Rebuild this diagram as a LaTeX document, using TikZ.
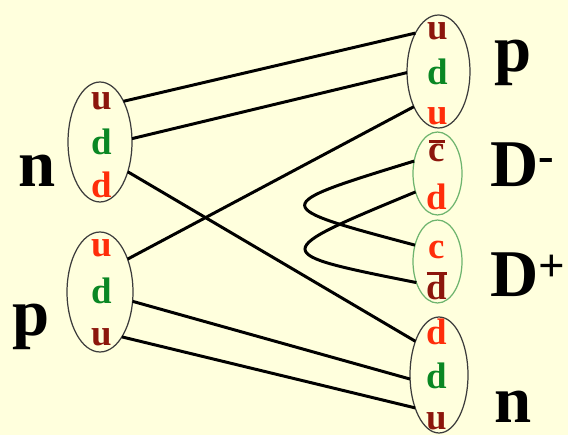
\documentclass[tikz,border=0pt]{standalone}
\usepackage{fontspec}
\setmainfont{Liberation Serif}
\usetikzlibrary{shapes.geometric}
\definecolor{bg}{RGB}{255,255,221}
\definecolor{qdark}{RGB}{140,22,12}
\definecolor{qred}{RGB}{255,45,10}
\definecolor{qgreen}{RGB}{10,135,35}
\definecolor{ringgreen}{RGB}{110,180,110}
\definecolor{ringgray}{RGB}{60,60,60}
\newcommand\qbar[2]{\setbox0\hbox{#1}\rlap{\raisebox{\dimexpr\ht0+#2\relax}{\rule{\wd0}{1.7pt}}}\box0}
\begin{document}
\begin{tikzpicture}[x=0.02cm,y=-0.02cm,
  hadron/.style={ellipse, draw=ringgray, line width=0.7pt, inner sep=0pt, outer sep=0pt},
  meson/.style={hadron, draw=ringgreen},
  quark/.style={font=\fontsize{21}{21}\selectfont\bfseries, inner sep=0pt},
  lbl/.style={font=\fontsize{38}{38}\selectfont\bfseries, inner sep=0pt, anchor=base west},
  link/.style={line width=1.7pt, black}]
\fill[bg] (0,0) rectangle (568,435);
\useasboundingbox (0,0) rectangle (568,435);

% hadron rings
\node[hadron, minimum width=1.28cm, minimum height=2.4cm] (nL) at (100,142) {};
\node[hadron, minimum width=1.32cm, minimum height=2.4cm] (pL) at (100,292) {};
\node[hadron, minimum width=1.26cm, minimum height=2.26cm] (pR) at (438.5,71.5) {};
\node[meson, minimum width=0.98cm, minimum height=1.66cm] (Dm) at (437.5,173.5) {};
\node[meson, minimum width=0.98cm, minimum height=1.66cm] (Dp) at (437.5,261.5) {};
\node[hadron, minimum width=1.16cm, minimum height=2.32cm] (nR) at (439,375) {};

% quarks
\node[quark, text=qdark]  (nL1) at (101.7,101) {u};
\node[quark, text=qgreen] (nL2) at (101.7,142) {d};
\node[quark, text=qred]   (nL3) at (101.7,185) {d};
\node[quark, text=qred]   (pL1) at (102,248) {u};
\node[quark, text=qgreen] (pL2) at (102,291) {d};
\node[quark, text=qdark]  (pL3) at (102,337) {u};
\node[quark, text=qdark]  (pR1) at (438,31) {u};
\node[quark, text=qgreen] (pR2) at (438,72) {d};
\node[quark, text=qred]   (pR3) at (438,116) {u};
\node[quark, text=qdark]  (Dm1) at (437,151) {\qbar{c}{1pt}};
\node[quark, text=qred]   (Dm2) at (437,197) {d};
\node[quark, text=qred]   (Dp1) at (437,250) {c};
\node[quark, text=qdark]  (Dp2) at (437,286) {\qbar{d}{-0.3pt}};
\node[quark, text=qred]   (nR1) at (437,332) {d};
\node[quark, text=qgreen] (nR2) at (437,376) {d};
\node[quark, text=qdark]  (nR3) at (437,421) {u};

% labels
\node[lbl] (lnL) at (18,187) {n};
\node[lbl] (lpL) at (12,336) {p};
\node[lbl] (lpR) at (494,72) {p};
\node[lbl] (lDm) at (490,187) {D\textsuperscript{-}};
\node[lbl] (lDp) at (490,297) {D\textsuperscript{+}};
\node[lbl] (lnR) at (494,422) {n};

% quark lines
\draw[link] (nL.60.6) -- (pR.121.9);
\draw[link] (nL.6.7) -- (pR.182.6);
\draw[link] (nL.-47.7) -- (nR.125);
\draw[link] (pL.50.3) -- (pR.235.1);
\draw[link] (pL.-16.4) -- (nR.188.4);
\draw[link] (pL.-64) -- (nR.234.6);

% created quark pairs
\draw[link] (Dm.152.1) .. controls (268,206) and (268,206) .. (Dp.144);
\draw[link] (Dm.220.1) .. controls (268,253) and (268,253) .. (Dp.225);
\end{tikzpicture}
\end{document}
